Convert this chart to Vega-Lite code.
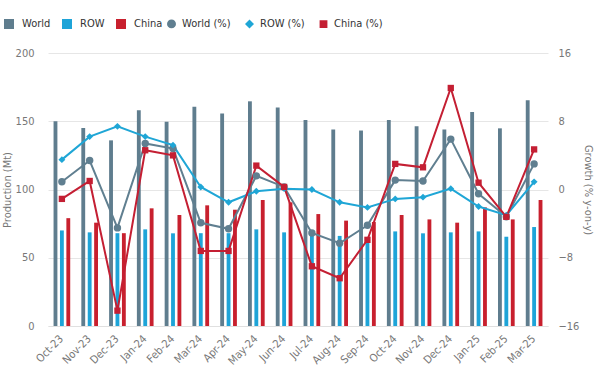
{
  "$schema": "https://vega.github.io/schema/vega-lite/v6.json",
  "width": 500,
  "height": 273,
  "autosize": {"type": "none"},
  "padding": {"left": 48, "top": 53, "right": 46, "bottom": 52},
  "background": "white",
  "config": {
    "font": "DejaVu Sans Condensed",
    "view": {"stroke": null},
    "axis": {"labelColor": "#777", "titleColor": "#777", "labelFontSize": 11, "titleFontSize": 11, "titleFontWeight": "normal", "labelFont": "DejaVu Sans Condensed", "titleFont": "DejaVu Sans Condensed"},
    "legend": {"labelColor": "#333", "labelFontSize": 11, "labelFont": "DejaVu Sans Condensed"}
  },
  "datasets": {
    "bars": [
      {"month": "Oct-23", "series": "World", "value": 150}, {"month": "Oct-23", "series": "ROW", "value": 70}, {"month": "Oct-23", "series": "China", "value": 79},
      {"month": "Nov-23", "series": "World", "value": 145}, {"month": "Nov-23", "series": "ROW", "value": 68.6}, {"month": "Nov-23", "series": "China", "value": 75.7},
      {"month": "Dec-23", "series": "World", "value": 136}, {"month": "Dec-23", "series": "ROW", "value": 68}, {"month": "Dec-23", "series": "China", "value": 68},
      {"month": "Jan-24", "series": "World", "value": 158}, {"month": "Jan-24", "series": "ROW", "value": 70.8}, {"month": "Jan-24", "series": "China", "value": 86.2},
      {"month": "Feb-24", "series": "World", "value": 149.7}, {"month": "Feb-24", "series": "ROW", "value": 67.9}, {"month": "Feb-24", "series": "China", "value": 81.3},
      {"month": "Mar-24", "series": "World", "value": 160.7}, {"month": "Mar-24", "series": "ROW", "value": 68}, {"month": "Mar-24", "series": "China", "value": 88.4},
      {"month": "Apr-24", "series": "World", "value": 155.7}, {"month": "Apr-24", "series": "ROW", "value": 68}, {"month": "Apr-24", "series": "China", "value": 85.2},
      {"month": "May-24", "series": "World", "value": 164.6}, {"month": "May-24", "series": "ROW", "value": 70.8}, {"month": "May-24", "series": "China", "value": 92.3},
      {"month": "Jun-24", "series": "World", "value": 160}, {"month": "Jun-24", "series": "ROW", "value": 68.6}, {"month": "Jun-24", "series": "China", "value": 90.6},
      {"month": "Jul-24", "series": "World", "value": 151}, {"month": "Jul-24", "series": "ROW", "value": 68}, {"month": "Jul-24", "series": "China", "value": 82},
      {"month": "Aug-24", "series": "World", "value": 144}, {"month": "Aug-24", "series": "ROW", "value": 66}, {"month": "Aug-24", "series": "China", "value": 77.2},
      {"month": "Sep-24", "series": "World", "value": 143.2}, {"month": "Sep-24", "series": "ROW", "value": 64}, {"month": "Sep-24", "series": "China", "value": 76.2},
      {"month": "Oct-24", "series": "World", "value": 151}, {"month": "Oct-24", "series": "ROW", "value": 69.3}, {"month": "Oct-24", "series": "China", "value": 81.3},
      {"month": "Nov-24", "series": "World", "value": 146.3}, {"month": "Nov-24", "series": "ROW", "value": 67.9}, {"month": "Nov-24", "series": "China", "value": 78.1},
      {"month": "Dec-24", "series": "World", "value": 144}, {"month": "Dec-24", "series": "ROW", "value": 68.6}, {"month": "Dec-24", "series": "China", "value": 75.7},
      {"month": "Jan-25", "series": "World", "value": 156.8}, {"month": "Jan-25", "series": "ROW", "value": 69.3}, {"month": "Jan-25", "series": "China", "value": 86.9},
      {"month": "Feb-25", "series": "World", "value": 144.8}, {"month": "Feb-25", "series": "ROW", "value": 65.4}, {"month": "Feb-25", "series": "China", "value": 78.1},
      {"month": "Mar-25", "series": "World", "value": 165.3}, {"month": "Mar-25", "series": "ROW", "value": 72.5}, {"month": "Mar-25", "series": "China", "value": 92.3}
    ],
    "lines": [
      {"month": "Oct-23", "series": "World (%)", "value": 0.9}, {"month": "Oct-23", "series": "ROW (%)", "value": 3.5}, {"month": "Oct-23", "series": "China (%)", "value": -1.1},
      {"month": "Nov-23", "series": "World (%)", "value": 3.4}, {"month": "Nov-23", "series": "ROW (%)", "value": 6.2}, {"month": "Nov-23", "series": "China (%)", "value": 1.0},
      {"month": "Dec-23", "series": "World (%)", "value": -4.5}, {"month": "Dec-23", "series": "ROW (%)", "value": 7.4}, {"month": "Dec-23", "series": "China (%)", "value": -14.2},
      {"month": "Jan-24", "series": "World (%)", "value": 5.4}, {"month": "Jan-24", "series": "ROW (%)", "value": 6.2}, {"month": "Jan-24", "series": "China (%)", "value": 4.6},
      {"month": "Feb-24", "series": "World (%)", "value": 4.8}, {"month": "Feb-24", "series": "ROW (%)", "value": 5.2}, {"month": "Feb-24", "series": "China (%)", "value": 4.0},
      {"month": "Mar-24", "series": "World (%)", "value": -3.9}, {"month": "Mar-24", "series": "ROW (%)", "value": 0.3}, {"month": "Mar-24", "series": "China (%)", "value": -7.2},
      {"month": "Apr-24", "series": "World (%)", "value": -4.6}, {"month": "Apr-24", "series": "ROW (%)", "value": -1.5}, {"month": "Apr-24", "series": "China (%)", "value": -7.2},
      {"month": "May-24", "series": "World (%)", "value": 1.6}, {"month": "May-24", "series": "ROW (%)", "value": -0.2}, {"month": "May-24", "series": "China (%)", "value": 2.8},
      {"month": "Jun-24", "series": "World (%)", "value": 0.3}, {"month": "Jun-24", "series": "ROW (%)", "value": 0.1}, {"month": "Jun-24", "series": "China (%)", "value": 0.3},
      {"month": "Jul-24", "series": "World (%)", "value": -5.1}, {"month": "Jul-24", "series": "ROW (%)", "value": 0.0}, {"month": "Jul-24", "series": "China (%)", "value": -9.0},
      {"month": "Aug-24", "series": "World (%)", "value": -6.3}, {"month": "Aug-24", "series": "ROW (%)", "value": -1.5}, {"month": "Aug-24", "series": "China (%)", "value": -10.4},
      {"month": "Sep-24", "series": "World (%)", "value": -4.2}, {"month": "Sep-24", "series": "ROW (%)", "value": -2.1}, {"month": "Sep-24", "series": "China (%)", "value": -5.9},
      {"month": "Oct-24", "series": "World (%)", "value": 1.1}, {"month": "Oct-24", "series": "ROW (%)", "value": -1.1}, {"month": "Oct-24", "series": "China (%)", "value": 3.0},
      {"month": "Nov-24", "series": "World (%)", "value": 1.0}, {"month": "Nov-24", "series": "ROW (%)", "value": -0.9}, {"month": "Nov-24", "series": "China (%)", "value": 2.6},
      {"month": "Dec-24", "series": "World (%)", "value": 5.9}, {"month": "Dec-24", "series": "ROW (%)", "value": 0.1}, {"month": "Dec-24", "series": "China (%)", "value": 11.9},
      {"month": "Jan-25", "series": "World (%)", "value": -0.5}, {"month": "Jan-25", "series": "ROW (%)", "value": -2.0}, {"month": "Jan-25", "series": "China (%)", "value": 0.8},
      {"month": "Feb-25", "series": "World (%)", "value": -3.2}, {"month": "Feb-25", "series": "ROW (%)", "value": -3.0}, {"month": "Feb-25", "series": "China (%)", "value": -3.2},
      {"month": "Mar-25", "series": "World (%)", "value": 3.0}, {"month": "Mar-25", "series": "ROW (%)", "value": 0.9}, {"month": "Mar-25", "series": "China (%)", "value": 4.7}
    ]
  },
  "encoding": {
    "x": {
      "field": "month", "type": "nominal", "sort": null, "title": null,
      "scale": {"paddingInner": 0.4, "paddingOuter": 0.2},
      "axis": {"labelAngle": -45, "labelAlign": "right", "labelBaseline": "middle", "labelPadding": 11, "ticks": false, "domain": true, "domainColor": "#e0e0e0", "grid": false, "labelFontSize": 11}
    }
  },
  "layer": [
    {
      "data": {"name": "bars"},
      "mark": {"type": "bar"},
      "encoding": {
        "xOffset": {"field": "series", "type": "nominal", "sort": ["World", "ROW", "China"], "scale": {"paddingInner": 0.4}},
        "y": {
          "field": "value", "type": "quantitative", "title": "Production (Mt)",
          "scale": {"domain": [0, 200], "nice": false},
          "axis": {"values": [0, 50, 100, 150, 200], "domain": false, "ticks": false, "gridColor": "#e6e6e6", "labelPadding": 14, "titlePadding": 3}
        },
        "color": {
          "field": "series", "type": "nominal",
          "scale": {"domain": ["World", "ROW", "China"], "range": ["#5f7d8e", "#1ea4d8", "#c8202e"]},
          "legend": {"title": null, "orient": "none", "direction": "horizontal", "legendX": -45, "legendY": -35, "symbolType": "square", "symbolSize": 100, "columnPadding": 10, "labelOffset": 7}
        }
      }
    },
    {
      "data": {"name": "lines"},
      "encoding": {
        "x": {"field": "month", "type": "nominal", "sort": null, "bandPosition": 0.5},
        "y": {
          "field": "value", "type": "quantitative", "title": "Growth (% y-on-y)",
          "scale": {"domain": [-16, 16], "nice": false},
          "axis": {"orient": "right", "values": [-16, -8, 0, 8, 16], "domain": false, "ticks": false, "grid": false, "labelPadding": 10, "titlePadding": 4}
        },
        "color": {
          "field": "series", "type": "nominal",
          "scale": {"domain": ["World (%)", "ROW (%)", "China (%)"], "range": ["#607f90", "#1fa6d6", "#c41f33"]},
          "legend": {"title": null, "orient": "none", "direction": "horizontal", "legendX": 118, "legendY": -35, "columnPadding": 12, "labelOffset": 5, "symbolSize": 60}
        }
      },
      "layer": [
        {"mark": {"type": "line", "strokeWidth": 2}, "encoding": {}},
        {
          "mark": {"type": "point", "filled": true, "opacity": 1},
          "encoding": {
            "shape": {"field": "series", "type": "nominal", "scale": {"domain": ["World (%)", "ROW (%)", "China (%)"], "range": ["circle", "diamond", "square"]}, "legend": {"title": null, "orient": "none", "direction": "horizontal", "legendX": 118, "legendY": -35, "columnPadding": 12, "labelOffset": 5, "symbolSize": 60}},
            "size": {"field": "series", "type": "nominal", "scale": {"domain": ["World (%)", "ROW (%)", "China (%)"], "range": [55, 40, 80]}, "legend": null}
          }
        }
      ]
    }
  ],
  "resolve": {"scale": {"y": "independent", "color": "independent", "shape": "independent", "size": "independent"}}
}
